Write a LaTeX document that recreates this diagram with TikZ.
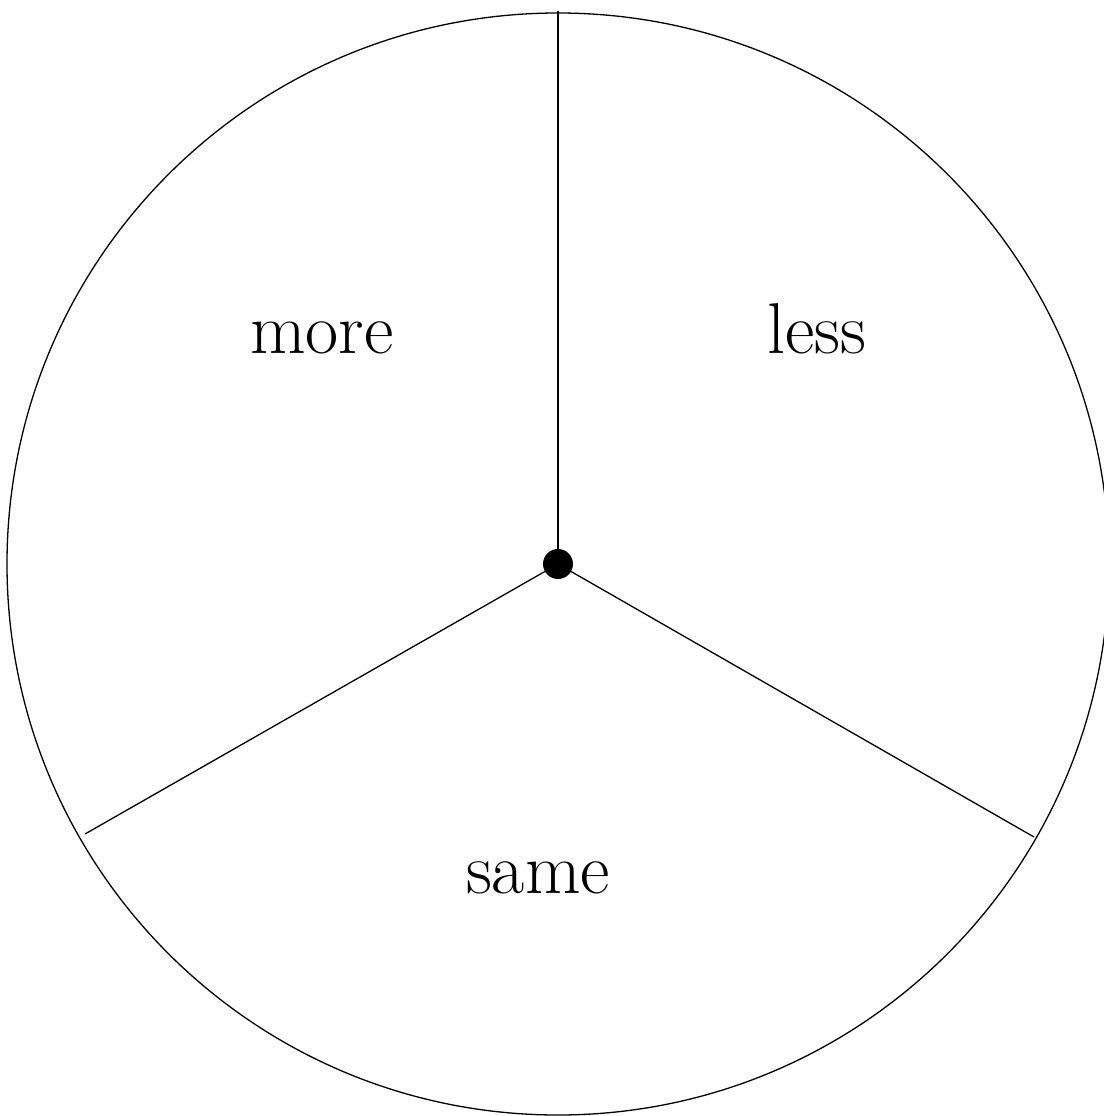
\documentclass[tikz,border=0pt]{standalone}
\usepackage{fontspec}
\begin{document}
\begin{tikzpicture}[x=1pt,y=-1pt,
  rim/.style={line width=1.3pt},
  spoke/.style={line width=1.3pt},
  lbl/.style={anchor=base,inner sep=0pt,font=\fontsize{72}{76}\selectfont}]
\useasboundingbox (0,0) rectangle (1103,1116);
\coordinate (c) at (558,564);
\coordinate (top) at (558,11);
\coordinate (lend) at (85,834);
\coordinate (rend) at (1034,837);
\draw[rim] (c) circle[radius=551];
\draw[spoke] (c) -- (top);
\draw[spoke] (c) -- (lend);
\draw[spoke] (c) -- (rend);
\fill (c) circle[radius=15];
\node[lbl] (more) at (322,353) {more};
\node[lbl] (less) at (817,353) {less};
\node[lbl] (same) at (538,893) {same};
\end{tikzpicture}
\end{document}
